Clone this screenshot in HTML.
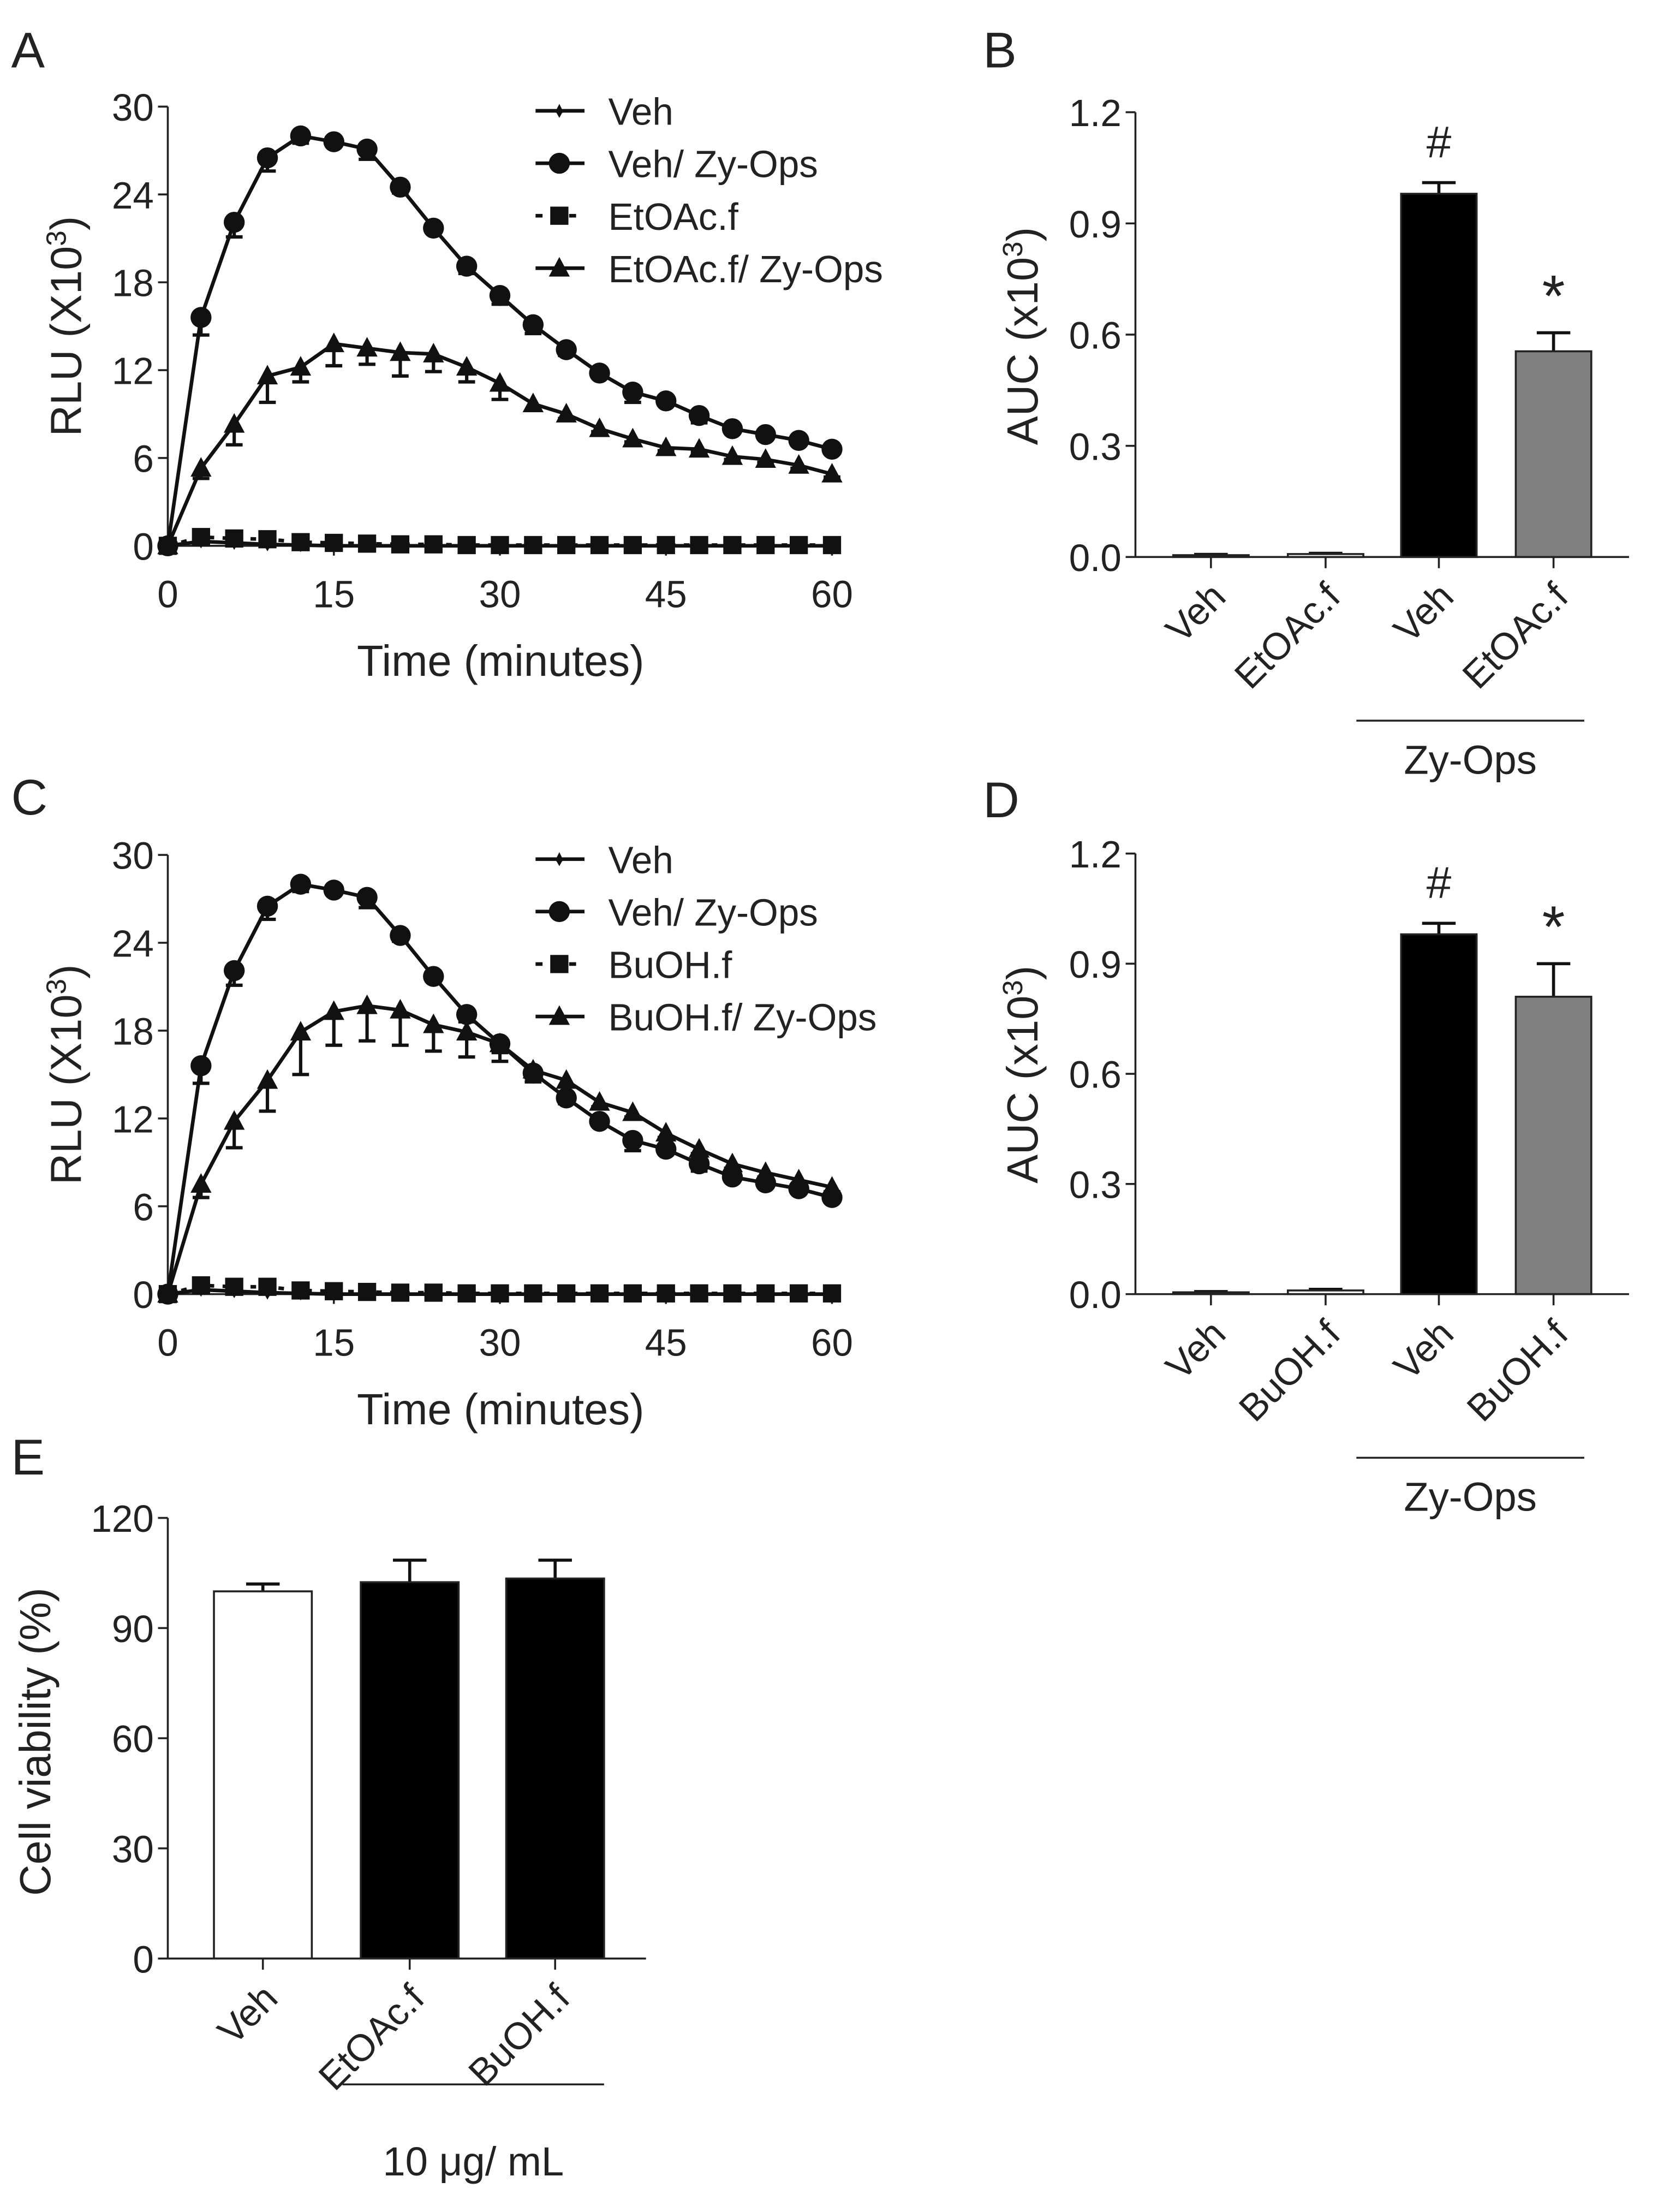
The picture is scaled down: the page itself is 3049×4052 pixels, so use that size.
<!DOCTYPE html>
<html><head><meta charset="utf-8">
<style>
html,body{margin:0;padding:0;background:#fff;}
svg{display:block;}
text{font-family:"Liberation Sans",sans-serif;fill:#222;}
</style></head>
<body>
<svg id="fig" width="3049" height="4052" viewBox="0 0 1190 1581" xmlns="http://www.w3.org/2000/svg"></svg>
<script>
const timePoints=[0,3,6,9,12,15,18,21,24,27,30,33,36,39,42,45,48,51,54,57,60];
const vehValues=[0,0.3,0.2,0.1,0.05,0,0,0,0,0,0,0,0,0,0,0,0,0,0,0,0];
const vehZyValues=[0,15.6,22.1,26.5,28,27.6,27.1,24.5,21.7,19.1,17.1,15.1,13.4,11.8,10.5,9.9,8.9,8.0,7.6,7.2,6.6];
const vehZyErr=[0,1.2,1.0,0.9,0.5,0.3,0.7,0.4,0.3,0.5,0.6,0.6,0.4,0.3,0.7,0.3,0.5,0.3,0.3,0.3,0.3];
const etoacValues=[0,0.6,0.5,0.45,0.25,0.2,0.15,0.1,0.1,0.05,0.05,0.05,0.05,0.05,0.05,0.05,0.05,0.05,0.05,0.05,0.05];
const etoacZyValues=[0,5.3,8.3,11.6,12.2,13.8,13.5,13.2,13.1,12.2,11.1,9.7,9.0,8.0,7.3,6.7,6.6,6.1,5.9,5.5,4.9];
const etoacZyErr=[0,0.7,1.4,1.8,1.0,1.5,1.1,1.6,1.2,1.0,1.1,0.4,0.3,0.2,0.2,0.2,0.2,0.2,0.2,0.2,0.2];
const buohValues=[0,0.6,0.5,0.5,0.25,0.2,0.15,0.1,0.1,0.05,0.05,0.05,0.05,0.05,0.05,0.05,0.05,0.05,0.05,0.05,0.05];
const buohZyValues=[0,7.5,11.8,14.6,17.9,19.3,19.7,19.4,18.4,17.9,17.1,15.3,14.6,13.1,12.4,11.0,9.9,8.9,8.3,7.8,7.3];
const buohZyErr=[0,0.9,1.8,2.1,2.9,2.3,2.4,2.4,1.8,1.7,1.2,0.5,0.4,0.3,0.3,0.3,0.3,0.3,0.3,0.3,0.3];
const timeTicks=[0,15,30,45,60];
const rluTicks=[0,6,12,18,24,30];
const aucCategories=["Veh","EtOAc.f","Veh","EtOAc.f"];
const aucValuesB=[0.005,0.008,0.98,0.555];
const aucErrB=[0.002,0.002,0.03,0.05];
const aucCategoriesD=["Veh","BuOH.f","Veh","BuOH.f"];
const aucValuesD=[0.005,0.01,0.98,0.81];
const aucErrD=[0.002,0.003,0.03,0.09];
const aucTicks=[0,0.3,0.6,0.9,1.2];
const aucTickLabels=["0.0","0.3","0.6","0.9","1.2"];
const viabCategories=["Veh","EtOAc.f","BuOH.f"];
const viabValues=[100,102.5,103.5];
const viabErr=[2,6,5];
const viabTicks=[0,30,60,90,120];

const NS="http://www.w3.org/2000/svg";
const svg=document.getElementById('fig');
function mk(tag,attrs,parent,txt){const e=document.createElementNS(NS,tag);for(const k in attrs)e.setAttribute(k,attrs[k]);if(txt!==undefined)e.textContent=txt;(parent||svg).appendChild(e);return e;}
function grp(name,parent){const g=mk('g',{},parent);return g;}

function marker(g,type,x,y){
  if(type==='circle')mk('circle',{cx:x,cy:y,r:7.5,fill:'#111'},g);
  else if(type==='square')mk('rect',{x:x-6.5,y:y-6.5,width:13,height:13,fill:'#111'},g);
  else if(type==='triangle')mk('polygon',{points:`${x},${y-8} ${x+7.5},${y+6} ${x-7.5},${y+6}`,fill:'#111'},g);
  else {mk('polygon',{points:`${x},${y-5} ${x+2},${y-1} ${x+5},${y} ${x+2},${y+1.5} ${x},${y+5} ${x-2},${y+1.5} ${x-5},${y} ${x-2},${y-1}`,fill:'#111'},g);}
}

function linePanel(id,oy,series,legendNames){
  const P=grp('panel-'+id);
  const x0=120,x1=595,y0=oy+314,yTop=oy;
  const sx=t=>x0+(t-0)/60*(x1-x0);
  const sy=v=>y0-(v/30)*(y0-yTop);
  const ax=grp('y-axis',P);
  mk('line',{x1:x0,y1:yTop,x2:x0,y2:y0,stroke:'#222','stroke-width':1.4},ax);
  rluTicks.forEach(v=>{mk('line',{x1:x0-7,y1:sy(v),x2:x0,y2:sy(v),stroke:'#222','stroke-width':1.4},ax);
    const t=mk('text',{x:x0-10,y:sy(v)+10,'font-size':27,'text-anchor':'end'},ax,String(v));});
  const xa=grp('x-axis',P);
  mk('line',{x1:x0,y1:y0,x2:x1,y2:y0,stroke:'#222','stroke-width':1.4},xa);
  timeTicks.forEach(v=>{mk('line',{x1:sx(v),y1:y0,x2:sx(v),y2:y0+7,stroke:'#222','stroke-width':1.4},xa);
    const t=mk('text',{x:sx(v),y:y0+44,'font-size':27,'text-anchor':'middle'},xa,String(v));});
  const xt=mk('text',{x:358,y:y0+93,'font-size':31,'text-anchor':'middle'},P,'Time (minutes)');
  
  const yt=mk('text',{x:0,y:0,'font-size':31,'text-anchor':'middle',transform:`translate(58,${oy+157}) rotate(-90)`},P);
  
  yt.innerHTML='RLU (X10<tspan dy="-11" font-size="20">3</tspan><tspan dy="11">)</tspan>';
  series.forEach((s,si)=>{
    const g=grp('series-'+s.name,P);
    const pts=timePoints.map((t,i)=>sx(t)+','+sy(s.vals[i])).join(' ');
    mk('polyline',{points:pts,fill:'none',stroke:'#111','stroke-width':2.6,'stroke-dasharray':s.dash||'none'},g);
    if(s.err)timePoints.forEach((t,i)=>{if(s.err[i]>0){const x=sx(t),ya=sy(s.vals[i]),yb=sy(s.vals[i]-s.err[i]);
      mk('line',{x1:x,y1:ya,x2:x,y2:yb,stroke:'#111','stroke-width':2.4},g);mk('line',{x1:x-6,y1:yb,x2:x+6,y2:yb,stroke:'#111','stroke-width':2.4},g);}});
    timePoints.forEach((t,i)=>marker(g,s.m,sx(t),sy(s.vals[i])));
    const lg=grp('legend-entry',P);
    const ly=oy+3+si*37.5;
    mk('line',{x1:383,y1:ly,x2:418,y2:ly,stroke:'#111','stroke-width':2.6,'stroke-dasharray':s.dash?'5 7':'none'},lg);
    marker(lg,s.m,400,ly);
    mk('text',{x:435,y:ly+10,'font-size':27},lg,legendNames[si]);
  });
}
function letter(ch,x,y){const t=mk('text',{x:x,y:y,'font-size':36},svg,ch);}

letter('A',8,48);letter('B',703,48);letter('C',8,582);letter('D',703,584);letter('E',8,1054);
linePanel('a',76,[{name:'veh',vals:vehValues,m:'star'},{name:'veh-zy-ops',vals:vehZyValues,err:vehZyErr,m:'circle'},{name:'etoac',vals:etoacValues,m:'square',dash:'4 6'},{name:'etoac-zy-ops',vals:etoacZyValues,err:etoacZyErr,m:'triangle'}],['Veh','Veh/ Zy-Ops','EtOAc.f','EtOAc.f/ Zy-Ops']);
linePanel('c',611,[{name:'veh',vals:vehValues,m:'star'},{name:'veh-zy-ops',vals:vehZyValues,err:vehZyErr,m:'circle'},{name:'buoh',vals:buohValues,m:'square',dash:'4 6'},{name:'buoh-zy-ops',vals:buohZyValues,err:buohZyErr,m:'triangle'}],['Veh','Veh/ Zy-Ops','BuOH.f','BuOH.f/ Zy-Ops']);

function barPanel(id,cfg){
  const P=grp('panel-'+id);
  const {x0,x1,yTop,y0,max,ticks,tickLabels,cats,vals,errs,centers,bw,fills,title,titleY,titleX,stars,bracket}=cfg;
  const sy=v=>y0-(v/max)*(y0-yTop);
  const ax=grp('y-axis',P);
  mk('line',{x1:x0,y1:yTop,x2:x0,y2:y0,stroke:'#222','stroke-width':1.4},ax);
  ticks.forEach((v,i)=>{mk('line',{x1:x0-7,y1:sy(v),x2:x0,y2:sy(v),stroke:'#222','stroke-width':1.4},ax);
    const t=mk('text',{x:x0-10,y:sy(v)+10,'font-size':27,'text-anchor':'end'},ax,tickLabels[i]);});
  const yt=mk('text',{x:0,y:0,'font-size':31,'text-anchor':'middle',transform:`translate(${titleX},${titleY}) rotate(-90)`},P);
  
  yt.innerHTML=title;
  cats.forEach((c,i)=>{
    const g=grp('bar-'+i,P);
    const cx=centers[i],yv=sy(vals[i]),ye=sy(vals[i]+errs[i]);
    mk('line',{x1:cx,y1:yv,x2:cx,y2:ye,stroke:'#111','stroke-width':2.2},g);
    mk('line',{x1:cx-12,y1:ye,x2:cx+12,y2:ye,stroke:'#111','stroke-width':2.2},g);
    mk('rect',{x:cx-bw/2,y:yv,width:bw,height:y0-yv,fill:fills[i],stroke:'#222','stroke-width':1.4},g);
    mk('line',{x1:cx,y1:y0,x2:cx,y2:y0+8,stroke:'#222','stroke-width':1.4},P);
    const t=mk('text',{x:0,y:0,'font-size':27,'text-anchor':'end',transform:`translate(${cx+12},${y0+30}) rotate(-45)`},P,c);
    
    if(stars&&stars[i]){const s=mk('text',{x:cx,y:ye-(stars[i]==='*'?12:18),'font-size':stars[i]==='*'?42:32,'text-anchor':'middle'},P,stars[i]);}
  });
  mk('line',{x1:x0,y1:y0,x2:x1,y2:y0,stroke:'#222','stroke-width':1.4},P);
  const b=grp('group-bracket',P);
  mk('line',{x1:bracket.x1,y1:bracket.y,x2:bracket.x2,y2:bracket.y,stroke:'#222','stroke-width':1.4},b);
  const bt=mk('text',{x:(bracket.x1+bracket.x2)/2,y:bracket.y+bracket.off,'font-size':29,'text-anchor':'middle'},b);bt.innerHTML=bracket.label;
}
const aucTitle='AUC (x10<tspan dy="-11" font-size="20">3</tspan><tspan dy="11">)</tspan>';
barPanel('b',{x0:812,x1:1165,yTop:80,y0:398,max:1.2,ticks:aucTicks,tickLabels:aucTickLabels,cats:aucCategories,vals:aucValuesB,errs:aucErrB,centers:[866,948,1029,1111],bw:54,fills:['#fff','#fff','#000','#808080'],title:aucTitle,titleX:742,titleY:240,stars:['','','#','*'],bracket:{x1:970,x2:1133,y:515,off:38,label:'Zy-Ops'}});
barPanel('d',{x0:812,x1:1165,yTop:610,y0:925,max:1.2,ticks:aucTicks,tickLabels:aucTickLabels,cats:aucCategoriesD,vals:aucValuesD,errs:aucErrD,centers:[866,948,1029,1111],bw:54,fills:['#fff','#fff','#000','#808080'],title:aucTitle,titleX:742,titleY:768,stars:['','','#','*'],bracket:{x1:970,x2:1133,y:1042,off:38,label:'Zy-Ops'}});
barPanel('e',{x0:120,x1:462,yTop:1085,y0:1400,max:120,ticks:viabTicks,tickLabels:viabTicks.map(String),cats:viabCategories,vals:viabValues,errs:viabErr,centers:[188,293,397],bw:70,fills:['#fff','#000','#000'],title:'Cell viability (%)',titleX:36,titleY:1245,stars:null,bracket:{x1:245,x2:432,y:1490,off:65,label:'10 μg/ mL'}});
</script>
</body></html>
